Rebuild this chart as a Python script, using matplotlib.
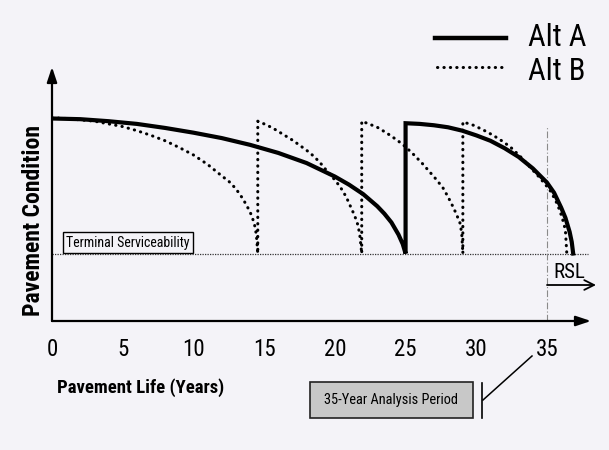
import matplotlib
matplotlib.use("Agg")
import matplotlib.pyplot as plt
from matplotlib import font_manager as fm
from matplotlib.lines import Line2D
from matplotlib.patches import Rectangle

# ---------------- data ----------------
x_ticks = [0, 5, 10, 15, 20, 25, 30, 35]
x_tick_labels = ["0", "5", "10", "15", "20", "25", "30", "35"]

terminal_serviceability = 2.5
analysis_period = 35

alt_a_years = [0, 2, 4, 6, 8, 10, 12, 14, 16, 18, 20, 21, 22, 23, 23.5, 24, 24.5, 24.8, 25,
               25, 26, 27, 28, 29, 30, 31, 32, 33, 34, 35, 35.5, 36, 36.3, 36.6, 36.75, 36.85]
alt_a_condition = [4.50, 4.49, 4.46, 4.42, 4.36, 4.29, 4.21, 4.11, 3.99, 3.84, 3.64, 3.52, 3.38, 3.20, 3.09, 2.96, 2.78, 2.64, 2.50,
                   4.43, 4.42, 4.40, 4.37, 4.32, 4.25, 4.17, 4.06, 3.93, 3.76, 3.55, 3.40, 3.18, 3.03, 2.82, 2.67, 2.50]

alt_b_years = [0, 1, 2, 3, 4, 5, 6, 7, 8, 9, 10, 11, 12, 12.5, 13, 13.5, 14, 14.3, 14.45, 14.55,
               14.55, 15.0, 15.6, 16.3, 17.0, 17.6, 18.25, 18.9, 19.45, 20.0, 20.4, 20.8, 21.1, 21.4, 21.6, 21.75, 21.9,
               21.9, 22.4, 23.0, 23.7, 24.4, 25.0, 25.6, 26.2, 26.7, 27.2, 27.65, 28.0, 28.36, 28.6, 28.85, 28.97, 29.05,
               29.05, 29.8, 30.5, 31.2, 31.8, 32.4, 33.1, 33.8, 34.5, 35.2, 35.6, 35.9, 36.1, 36.3, 36.4]
alt_b_condition = [4.51, 4.50, 4.48, 4.46, 4.42, 4.38, 4.32, 4.25, 4.17, 4.07, 3.96, 3.82, 3.65, 3.57, 3.46, 3.31, 3.12, 2.95, 2.78, 2.50,
                   4.46, 4.42, 4.36, 4.27, 4.18, 4.09, 3.99, 3.86, 3.72, 3.59, 3.48, 3.34, 3.20, 3.06, 2.94, 2.80, 2.50,
                   4.46, 4.42, 4.37, 4.28, 4.18, 4.08, 3.96, 3.83, 3.71, 3.59, 3.47, 3.34, 3.19, 3.08, 2.95, 2.80, 2.50,
                   4.45, 4.40, 4.33, 4.25, 4.17, 4.08, 3.94, 3.78, 3.62, 3.44, 3.29, 3.14, 3.01, 2.85, 2.50]

# ---------------- fonts ----------------
_names = {f.name for f in fm.fontManager.ttflist}
if "Roboto Condensed" in _names:
    FONT = ["Roboto Condensed", "DejaVu Sans"]
    k = 1.0
else:
    FONT = ["Liberation Sans", "DejaVu Sans"]
    k = 0.84
plt.rcParams["font.family"] = FONT

BG = "#f4f3f8"
W, H = 609, 450
fig = plt.figure(figsize=(W / 100, H / 100), dpi=100, facecolor=BG)

# axes geometry (pixel-based layout)
X0, Y0 = 52, 321          # pixel of origin
XS, YS = 495 / 35, 67.5   # pixels per year, pixels per condition unit
YMIN = 1.5
ax = fig.add_axes([X0 / W, (H - Y0) / H, 548 / W, 261 / H])
ax.set_xlim(0, 548 / XS)
ax.set_ylim(YMIN, YMIN + 261 / YS)
ax.set_facecolor("none")
for s in ax.spines.values():
    s.set_visible(False)


def P(px, py):
    """pixel position -> data coordinates (layout helper)"""
    return (px - X0) / XS, YMIN + (Y0 - py) / YS


# axis arrows
ax.annotate("", xy=P(591, Y0), xytext=P(X0, Y0), annotation_clip=False,
            arrowprops=dict(arrowstyle="-|>,head_length=0.9,head_width=0.3", lw=1.6, color="black",
                            shrinkA=0, shrinkB=0))
ax.annotate("", xy=P(X0, 67), xytext=P(X0, Y0), annotation_clip=False,
            arrowprops=dict(arrowstyle="-|>,head_length=0.9,head_width=0.3", lw=1.6, color="black",
                            shrinkA=0, shrinkB=0))

ax.set_xticks(x_ticks)
ax.set_xticklabels(x_tick_labels, fontsize=16.5 * k)
ax.tick_params(axis="x", length=0, pad=12)
ax.set_yticks([])

# terminal serviceability line
ax.hlines(terminal_serviceability, 0, P(588, 0)[0], colors="#333333", lw=0.9,
          linestyles=(0, (1, 1)))

# analysis period vertical line
ax.vlines(analysis_period, YMIN, P(0, 127)[1], colors="#8a8a8a", lw=0.8,
          linestyles=(0, (6, 2, 1, 2)))

# curves
ax.plot(alt_a_years, alt_a_condition, color="black", lw=3.0, solid_joinstyle="miter")
ax.plot(alt_b_years, alt_b_condition, color="black", lw=2.2, linestyle=(0, (0.1, 2.0)),
        dash_capstyle="round")

# Terminal Serviceability box
bx0, by0 = P(63, 253)
bx1, by1 = P(193, 232)
ax.add_patch(Rectangle((bx0, by0), bx1 - bx0, by1 - by0, fill=False, ec="black", lw=1.0))
ax.text((bx0 + bx1) / 2, (by0 + by1) / 2, "Terminal Serviceability", ha="center", va="center",
        fontsize=10 * k)

# RSL arrow
ax.annotate("", xy=P(596, 285), xytext=P(547, 285), annotation_clip=False,
            arrowprops=dict(arrowstyle="->,head_length=0.7,head_width=0.35", lw=1.3, color="black",
                            shrinkA=0, shrinkB=0))
ax.text(*P(569, 272), "RSL", ha="center", va="center", fontsize=15 * k)

# 35-Year Analysis Period box and pointer
rx0, ry0 = P(310, 418)
rx1, ry1 = P(473, 382)
ax.add_patch(Rectangle((rx0, ry0), rx1 - rx0, ry1 - ry0, fc="#c8c8c8", ec="#222222", lw=1.2,
                       clip_on=False))
ax.text((rx0 + rx1) / 2, (ry0 + ry1) / 2, "35-Year Analysis Period", ha="center", va="center",
        fontsize=10.4 * k, clip_on=False)
ax.add_line(Line2D([P(482, 0)[0]] * 2, [P(0, 383)[1], P(0, 418)[1]], color="black", lw=1.2,
                   clip_on=False))
ax.add_line(Line2D([P(483, 0)[0], P(532, 0)[0]], [P(0, 400)[1], P(0, 356)[1]], color="black",
                   lw=1.1, clip_on=False))

# axis titles
fig.text(57 / W, 1 - 388 / H, "Pavement Life (Years)", ha="left", va="center",
         fontsize=13.5 * k, fontweight="bold")
fig.text(34 / W, 1 - 221 / H, "Pavement Condition", ha="center", va="center", rotation=90,
         fontsize=17 * k, fontweight="bold")

# legend (drawn manually)
fig.add_artist(Line2D([435 / W, 506 / W], [1 - 38 / H] * 2, color="black", lw=3.2))
fig.add_artist(Line2D([437 / W, 506 / W], [1 - 67 / H] * 2, color="black", lw=2.2,
                      linestyle=(0, (0.1, 2.0)), dash_capstyle="round"))
fig.text(528 / W, 1 - 38 / H, "Alt A", ha="left", va="center", fontsize=22 * k)
fig.text(528 / W, 1 - 71 / H, "Alt B", ha="left", va="center", fontsize=22 * k)

fig.savefig("out.png", dpi=100, facecolor=BG)
